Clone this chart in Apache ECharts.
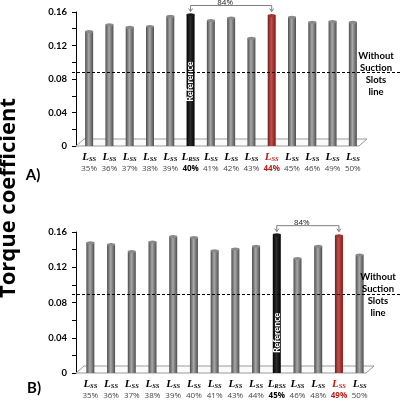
<!DOCTYPE html>
<html>
<head>
<meta charset="utf-8">
<script src="https://cdn.jsdelivr.net/npm/echarts@6/dist/echarts.min.js"></script>
<style>
  html, body { margin: 0; padding: 0; background: #fff; }
  #main { width: 400px; height: 406px; }
</style>
</head>
<body>
<div id="main"></div>
<script>
// panel A
var catA = ['35%', '36%', '37%', '38%', '39%', '40%', '41%', '42%', '43%', '44%', '45%', '46%', '49%', '50%'];
var valA = [0.137, 0.145, 0.142, 0.143, 0.155, 0.157, 0.150, 0.153, 0.129, 0.156, 0.154, 0.148, 0.149, 0.148];
var refA = 5, redA = 9;
var noSlotA = 0.0884;

// panel B
var catB = ['35%', '36%', '37%', '38%', '39%', '40%', '41%', '43%', '44%', '45%', '46%', '48%', '49%', '50%'];
var valB = [0.148, 0.146, 0.138, 0.149, 0.155, 0.154, 0.139, 0.141, 0.144, 0.157, 0.130, 0.144, 0.156, 0.134];
var refB = 9, redB = 12;
var noSlotB = 0.0897;

var yMax = 0.16, yStep = 0.04;
var gainText = '84%';

var gridA = { left: 79, top: 12, width: 284, height: 134 };
var gridB = { left: 80, top: 232, width: 290, height: 141 };
var axisX = 76;
var sans = 'Lato';

var chart = echarts.init(document.getElementById('main'));

function grad(c1, c2) {
  return new echarts.graphic.LinearGradient(0, 0, 1, 0, [
    { offset: 0, color: c1 }, { offset: 0.45, color: c2 }, { offset: 1, color: c1 }
  ]);
}
var grayFill = grad('#4d4d4d', '#a8a8a8');
var blackFill = grad('#000', '#2e2e2e');
var redFill = grad('#7a1b16', '#c0504d');

function barData(vals, ref, hot, labelPos) {
  return vals.map(function (v, i) {
    var item = { value: v };
    if (i === ref) {
      item.itemStyle = { color: blackFill };
      item.label = {
        show: true, position: labelPos, rotate: 90, formatter: 'Reference',
        color: '#fff', fontSize: 9, fontWeight: 'bold', fontFamily: sans,
        align: 'center', verticalAlign: 'middle'
      };
    }
    if (i === hot) item.itemStyle = { color: redFill };
    return item;
  });
}

function topData(vals, ref, hot) {
  return vals.map(function (v, i) {
    var c = '#8a8a8a';
    if (i === ref) c = '#1a1a1a';
    if (i === hot) c = '#a33631';
    return { value: v, itemStyle: { color: c } };
  });
}

function xLabel(ref, hot) {
  return function (v, i) {
    if (i === ref) return '{L|L}{s|RSS}\n{pb|' + v + '}';
    if (i === hot) return '{Lr|L}{sr|SS}\n{pr|' + v + '}';
    return '{L|L}{s|SS}\n{p|' + v + '}';
  };
}

var rich = {
  L: { fontFamily: 'Liberation Serif', fontStyle: 'italic', fontWeight: 'bold', fontSize: 11, color: '#000', lineHeight: 12 },
  s: { fontFamily: 'Liberation Serif', fontStyle: 'italic', fontWeight: 'bold', fontSize: 6.5, color: '#000', lineHeight: 12, verticalAlign: 'bottom' },
  Lr: { fontFamily: 'Liberation Serif', fontStyle: 'italic', fontWeight: 'bold', fontSize: 11, color: '#b3201b', lineHeight: 12 },
  sr: { fontFamily: 'Liberation Serif', fontStyle: 'italic', fontWeight: 'bold', fontSize: 6.5, color: '#b3201b', lineHeight: 12, verticalAlign: 'bottom' },
  p: { fontFamily: 'Open Sans', fontSize: 8, color: '#444', lineHeight: 11 },
  pb: { fontFamily: 'Open Sans', fontSize: 8, fontWeight: 'bold', color: '#000', lineHeight: 11 },
  pr: { fontFamily: 'Open Sans', fontSize: 8, fontWeight: 'bold', color: '#b3201b', lineHeight: 11 }
};

function xAxisOf(gi, cats, ref, hot) {
  return {
    type: 'category', gridIndex: gi, data: cats,
    axisLine: { show: false }, axisTick: { show: false },
    axisLabel: { interval: 0, margin: 5, formatter: xLabel(ref, hot), rich: rich }
  };
}

function yAxisOf(gi, off) {
  return {
    type: 'value', gridIndex: gi, min: 0, max: yMax, interval: yStep, offset: off,
    axisLine: { show: true, lineStyle: { color: '#000', width: 1 } },
    axisTick: { show: true, length: 4, lineStyle: { color: '#000' } },
    minorTick: { show: true, splitNumber: 2, length: 4, lineStyle: { color: '#000' } },
    splitLine: { show: false },
    axisLabel: {
      margin: 9, color: '#000', fontSize: 9.5, fontWeight: 'bold', fontFamily: sans,
      formatter: function (v) { return v === 0 ? '0' : v.toFixed(2); }
    }
  };
}

function dashLine(v) {
  return {
    silent: true, symbol: 'none', label: { show: false },
    lineStyle: { type: [3, 2], color: '#000', width: 1 },
    data: [[{ x: 72, yAxis: v }, { x: 400, yAxis: v }]]
  };
}

chart.setOption({
  animation: false,
  grid: [gridA, gridB],
  xAxis: [xAxisOf(0, catA, refA, redA), xAxisOf(1, catB, refB, redB)],
  yAxis: [yAxisOf(0, gridA.left - axisX), yAxisOf(1, gridB.left - axisX)],
  series: [
    { type: 'bar', xAxisIndex: 0, yAxisIndex: 0, barWidth: 8, z: 3,
      itemStyle: { color: grayFill }, data: barData(valA, refA, redA, ['50%', '51%']),
      markLine: dashLine(noSlotA) },
    { type: 'pictorialBar', xAxisIndex: 0, yAxisIndex: 0, symbol: 'circle', symbolSize: [8, 3],
      symbolPosition: 'end', symbolOffset: [0, '-50%'], z: 4,
      itemStyle: { borderColor: '#222', borderWidth: 0.6 }, data: topData(valA, refA, redA) },
    { type: 'bar', xAxisIndex: 1, yAxisIndex: 1, barWidth: 8, z: 3,
      itemStyle: { color: grayFill }, data: barData(valB, refB, redB, ['50%', '71%']),
      markLine: dashLine(noSlotB) },
    { type: 'pictorialBar', xAxisIndex: 1, yAxisIndex: 1, symbol: 'circle', symbolSize: [8, 3],
      symbolPosition: 'end', symbolOffset: [0, '-50%'], z: 4,
      itemStyle: { borderColor: '#222', borderWidth: 0.6 }, data: topData(valB, refB, redB) }
  ]
});

// decorations placed from the axes
function px(gi, i, v) {
  return chart.convertToPixel({ gridIndex: gi }, [i, v]);
}

function floor(g) {
  var y0 = g.top + g.height, right = g.left + g.width;
  return {
    type: 'polygon', z: 1,
    shape: { points: [[axisX, y0], [right - 4, y0], [right + 4, y0 - 7], [axisX + 8, y0 - 7]] },
    style: { fill: '#fafafa', stroke: '#9a9a9a', lineWidth: 1 }
  };
}

function bracket(gi, vals, a, b) {
  var p1 = px(gi, a, vals[a]), p2 = px(gi, b, vals[b]);
  var top = Math.min(p1[1], p2[1]) - 3;
  var ly = top - 6;
  var els = [
    { type: 'polyline', z: 5, shape: { points: [[p1[0], top], [p1[0], ly], [p2[0], ly], [p2[0], top]] },
      style: { stroke: '#7f7f7f', lineWidth: 1, fill: null } },
    { type: 'text', z: 5, x: (p1[0] + p2[0]) / 2 - 6, y: ly + 1,
      style: { text: gainText, font: '8px "Open Sans"', fill: '#222', align: 'center', verticalAlign: 'bottom', textAlign: 'center', textVerticalAlign: 'bottom' } }
  ];
  [p1[0], p2[0]].forEach(function (x) {
    els.push({ type: 'polyline', z: 5, shape: { points: [[x - 2, top - 3], [x, top], [x + 2, top - 3]] },
      style: { stroke: '#7f7f7f', lineWidth: 1, fill: null } });
  });
  return els;
}

function noteText(x, y) {
  return { type: 'text', z: 5, x: x, y: y,
    style: { text: 'Without\nSuction\nSlots\nline', font: 'bold 9.5px ' + sans, lineHeight: 12,
      fill: '#000', align: 'center', verticalAlign: 'top', textAlign: 'center', textVerticalAlign: 'top' } };
}

function bigText(text, x, y, font, rot) {
  return { type: 'text', z: 5, x: x, y: y, rotation: rot || 0,
    style: { text: text, font: font, fill: '#000',
      align: 'center', verticalAlign: 'middle', textAlign: 'center', textVerticalAlign: 'middle' } };
}

var g = [floor(gridA), floor(gridB)]
  .concat(bracket(0, valA, refA, redA))
  .concat(bracket(1, valB, refB, redB))
  .concat([
    noteText(376, 50), noteText(378, 271),
    bigText('Torque coefficient', 9, 198, 'bold 22px "Open Sans"', Math.PI / 2),
    bigText('A)', 33, 175, 'bold 15px ' + sans), bigText('B)', 34, 388, 'bold 15px ' + sans)
  ]);

chart.setOption({ graphic: g });
</script>
</body>
</html>
